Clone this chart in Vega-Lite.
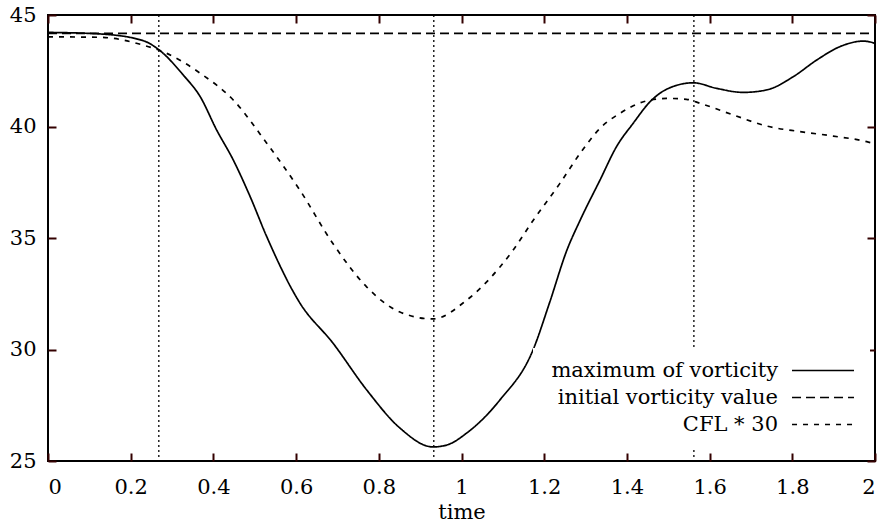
{
  "$schema": "https://vega.github.io/schema/vega-lite/v6.json",
  "width": 827,
  "height": 446,
  "autosize": {"type": "none"},
  "padding": {"left": 48, "top": 15, "right": 10, "bottom": 63},
  "background": "white",
  "config": {
    "view": {"stroke": "black", "strokeWidth": 2},
    "font": "DejaVu Serif",
    "axis": {
      "grid": false,
      "labelFont": "DejaVu Serif",
      "labelFontSize": 21,
      "labelColor": "black",
      "titleFont": "DejaVu Serif",
      "titleFontSize": 21,
      "titleColor": "black",
      "titleFontWeight": "normal"
    }
  },
  "datasets": {
    "curves": [
      {"series": "maximum of vorticity", "t": 0, "v": 44.22},
      {"series": "maximum of vorticity", "t": 0.126, "v": 44.15},
      {"series": "maximum of vorticity", "t": 0.23, "v": 43.85},
      {"series": "maximum of vorticity", "t": 0.271, "v": 43.4},
      {"series": "maximum of vorticity", "t": 0.327, "v": 42.31},
      {"series": "maximum of vorticity", "t": 0.368, "v": 41.34},
      {"series": "maximum of vorticity", "t": 0.408, "v": 39.84},
      {"series": "maximum of vorticity", "t": 0.448, "v": 38.5},
      {"series": "maximum of vorticity", "t": 0.489, "v": 36.85},
      {"series": "maximum of vorticity", "t": 0.529, "v": 35.06},
      {"series": "maximum of vorticity", "t": 0.609, "v": 32.09},
      {"series": "maximum of vorticity", "t": 0.689, "v": 30.29},
      {"series": "maximum of vorticity", "t": 0.771, "v": 28.18},
      {"series": "maximum of vorticity", "t": 0.851, "v": 26.48},
      {"series": "maximum of vorticity", "t": 0.931, "v": 25.63},
      {"series": "maximum of vorticity", "t": 0.965, "v": 25.72},
      {"series": "maximum of vorticity", "t": 1.013, "v": 26.26},
      {"series": "maximum of vorticity", "t": 1.093, "v": 27.74},
      {"series": "maximum of vorticity", "t": 1.173, "v": 29.98},
      {"series": "maximum of vorticity", "t": 1.213, "v": 32.1},
      {"series": "maximum of vorticity", "t": 1.255, "v": 34.46},
      {"series": "maximum of vorticity", "t": 1.287, "v": 35.8},
      {"series": "maximum of vorticity", "t": 1.335, "v": 37.6},
      {"series": "maximum of vorticity", "t": 1.375, "v": 39.1},
      {"series": "maximum of vorticity", "t": 1.415, "v": 40.14},
      {"series": "maximum of vorticity", "t": 1.456, "v": 41.11},
      {"series": "maximum of vorticity", "t": 1.496, "v": 41.67},
      {"series": "maximum of vorticity", "t": 1.561, "v": 41.96},
      {"series": "maximum of vorticity", "t": 1.617, "v": 41.71},
      {"series": "maximum of vorticity", "t": 1.681, "v": 41.53},
      {"series": "maximum of vorticity", "t": 1.738, "v": 41.64},
      {"series": "maximum of vorticity", "t": 1.802, "v": 42.23},
      {"series": "maximum of vorticity", "t": 1.859, "v": 42.98},
      {"series": "maximum of vorticity", "t": 1.915, "v": 43.58},
      {"series": "maximum of vorticity", "t": 1.972, "v": 43.83},
      {"series": "maximum of vorticity", "t": 2.0, "v": 43.73},
      {"series": "initial vorticity value", "t": 0, "v": 44.18},
      {"series": "initial vorticity value", "t": 2.0, "v": 44.18},
      {"series": "CFL * 30", "t": 0, "v": 44.02},
      {"series": "CFL * 30", "t": 0.126, "v": 44.0},
      {"series": "CFL * 30", "t": 0.23, "v": 43.65},
      {"series": "CFL * 30", "t": 0.287, "v": 43.28},
      {"series": "CFL * 30", "t": 0.368, "v": 42.39},
      {"series": "CFL * 30", "t": 0.448, "v": 41.19},
      {"series": "CFL * 30", "t": 0.529, "v": 39.25},
      {"series": "CFL * 30", "t": 0.609, "v": 37.15},
      {"series": "CFL * 30", "t": 0.689, "v": 34.75},
      {"series": "CFL * 30", "t": 0.771, "v": 32.8},
      {"series": "CFL * 30", "t": 0.851, "v": 31.68},
      {"series": "CFL * 30", "t": 0.931, "v": 31.37},
      {"series": "CFL * 30", "t": 1.013, "v": 32.22},
      {"series": "CFL * 30", "t": 1.093, "v": 33.7},
      {"series": "CFL * 30", "t": 1.125, "v": 34.46},
      {"series": "CFL * 30", "t": 1.174, "v": 35.81},
      {"series": "CFL * 30", "t": 1.238, "v": 37.45},
      {"series": "CFL * 30", "t": 1.287, "v": 38.8},
      {"series": "CFL * 30", "t": 1.335, "v": 39.92},
      {"series": "CFL * 30", "t": 1.383, "v": 40.59},
      {"series": "CFL * 30", "t": 1.44, "v": 41.11},
      {"series": "CFL * 30", "t": 1.496, "v": 41.26},
      {"series": "CFL * 30", "t": 1.544, "v": 41.22},
      {"series": "CFL * 30", "t": 1.577, "v": 41.04},
      {"series": "CFL * 30", "t": 1.657, "v": 40.52},
      {"series": "CFL * 30", "t": 1.738, "v": 40.02},
      {"series": "CFL * 30", "t": 1.819, "v": 39.77},
      {"series": "CFL * 30", "t": 1.899, "v": 39.57},
      {"series": "CFL * 30", "t": 1.98, "v": 39.32},
      {"series": "CFL * 30", "t": 2.0, "v": 39.22}
    ],
    "verticals": [
      {"t": 0.268},
      {"t": 0.933},
      {"t": 1.562}
    ]
  },
  "layer": [
    {
      "data": {"name": "verticals"},
      "mark": {"type": "rule", "strokeDash": [2, 3], "strokeWidth": 1.3, "color": "black"},
      "encoding": {
        "x": {"field": "t", "type": "quantitative", "scale": {"domain": [0, 2], "nice": false}, "axis": null}
      }
    },
    {
      "data": {"name": "curves"},
      "mark": {"type": "line", "interpolate": "monotone", "strokeWidth": 1.7, "color": "black"},
      "encoding": {
        "x": {
          "field": "t", "type": "quantitative",
          "scale": {"domain": [0, 2], "nice": false},
          "axis": {"orient": "bottom", "values": [0, 0.2, 0.4, 0.6, 0.8, 1, 1.2, 1.4, 1.6, 1.8, 2], "format": "~g", "title": "time", "labelPadding": 15, "titlePadding": 4, "domain": false, "offset": -8, "ticks": true, "tickSize": 8, "tickColor": "#330000", "tickWidth": 2}
        },
        "y": {
          "field": "v", "type": "quantitative",
          "scale": {"domain": [25, 45], "nice": false, "zero": false},
          "axis": {"orient": "left", "values": [25, 30, 35, 40, 45], "title": null, "labelPadding": 12, "domain": false, "offset": -8, "ticks": true, "tickSize": 8, "tickColor": "#330000", "tickWidth": 2}
        },
        "strokeDash": {
          "field": "series", "type": "nominal",
          "scale": {"domain": ["maximum of vorticity", "initial vorticity value", "CFL * 30"], "range": [[1, 0], [9, 5], [5, 6]]},
          "legend": {
            "orient": "none",
            "legendX": 485,
            "legendY": 333,
            "title": null,
            "direction": "vertical",
            "symbolType": "M-4,0H4",
            "symbolSize": 240,
            "symbolStrokeWidth": 1.7,
            "symbolStrokeColor": "black",
            "symbolOffset": 267.5,
            "labelOffset": -55.5,
            "labelAlign": "right",
            "labelLimit": 400,
            "labelFont": "DejaVu Serif",
            "labelFontSize": 21,
            "labelColor": "black",
            "rowPadding": 5,
            "padding": 12,
            "fillColor": "white"
          }
        }
      }
    },
    {
      "data": {"name": "curves"},
      "mark": {"type": "point", "opacity": 0},
      "encoding": {
        "x": {
          "field": "t", "type": "quantitative",
          "scale": {"domain": [0, 2], "nice": false},
          "axis": {"orient": "top", "values": [0, 0.2, 0.4, 0.6, 0.8, 1, 1.2, 1.4, 1.6, 1.8, 2], "labels": false, "title": null, "domain": false, "offset": -8, "ticks": true, "tickSize": 8, "tickColor": "#330000", "tickWidth": 2}
        },
        "y": {
          "field": "v", "type": "quantitative",
          "scale": {"domain": [25, 45], "nice": false, "zero": false},
          "axis": {"orient": "right", "values": [25, 30, 35, 40, 45], "labels": false, "title": null, "domain": false, "offset": -8, "ticks": true, "tickSize": 8, "tickColor": "#330000", "tickWidth": 2}
        }
      }
    }
  ],
  "resolve": {"axis": {"x": "independent", "y": "independent"}}
}
